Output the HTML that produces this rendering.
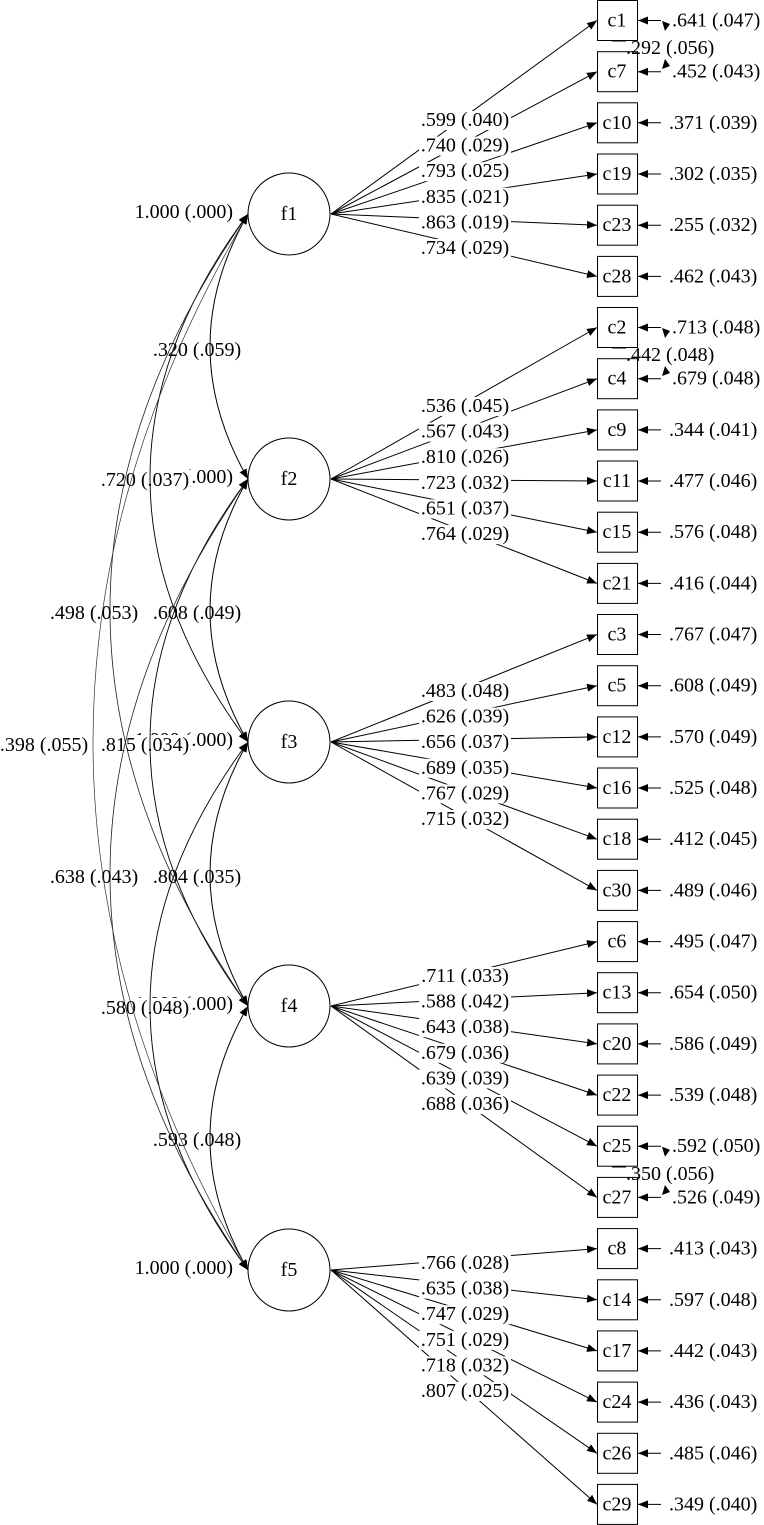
<!DOCTYPE html>
<html><head><meta charset="utf-8"><style>
html,body{margin:0;padding:0;background:#fff}
svg{display:block}
text{font-family:"Liberation Serif",serif;font-size:20px;fill:#000}
</style></head><body>
<svg width="764" height="1525" viewBox="0 0 764 1525" xmlns="http://www.w3.org/2000/svg">
<defs>
<marker id="ah" viewBox="0 0 10 10" refX="10" refY="5" markerWidth="10" markerHeight="10" markerUnits="userSpaceOnUse" orient="auto-start-reverse">
<path d="M0,1 L10,5 L0,9 z" fill="#000"/></marker>
</defs>

<!-- self variance labels -->
<g text-anchor="end" dominant-baseline="central">
<text x="233" y="212">1.000 (.000)</text>
<text x="233" y="477">1.000 (.000)</text>
<text x="233" y="740">1.000 (.000)</text>
<text x="233" y="1004">1.000 (.000)</text>
<text x="233" y="1268">1.000 (.000)</text>
</g>

<!-- covariance labels -->
<g text-anchor="middle" dominant-baseline="central">
<rect x="152" y="340" width="90" height="20" fill="#fff"/><text x="197" y="350">.320 (.059)</text>
<rect x="100" y="470" width="90" height="20" fill="#fff"/><text x="145" y="480">.720 (.037)</text>
<rect x="49" y="603" width="90" height="20" fill="#fff"/><text x="94" y="613">.498 (.053)</text>
<rect x="-1" y="735" width="90" height="20" fill="#fff"/><text x="44" y="745">.398 (.055)</text>
<rect x="152" y="603" width="90" height="20" fill="#fff"/><text x="197" y="613">.608 (.049)</text>
<rect x="100" y="735" width="90" height="20" fill="#fff"/><text x="145" y="745">.815 (.034)</text>
<rect x="49" y="867" width="90" height="20" fill="#fff"/><text x="94" y="877">.638 (.043)</text>
<rect x="152" y="867" width="90" height="20" fill="#fff"/><text x="197" y="877">.804 (.035)</text>
<rect x="100" y="998" width="90" height="20" fill="#fff"/><text x="145" y="1008">.580 (.048)</text>
<rect x="152" y="1130" width="90" height="20" fill="#fff"/><text x="197" y="1140">.593 (.048)</text>
</g>

<!-- covariance arcs -->
<g fill="none" stroke="#000" stroke-width="1" marker-start="url(#ah)" marker-end="url(#ah)">
<path d="M248,214 Q172,346 248,479"/>
<path d="M248,479 Q172,610 248,742"/>
<path d="M248,742 Q172,874 248,1006"/>
<path d="M248,1006 Q172,1138 248,1270"/>
<path d="M248,214 Q52,478 248,742" stroke-width="0.9"/>
<path d="M248,479 Q52,742 248,1006" stroke-width="0.9"/>
<path d="M248,742 Q52,1006 248,1270" stroke-width="0.9"/>
<path d="M248,214 Q-28,610 248,1006" stroke-width="0.8" stroke="#222"/>
<path d="M248,479 Q-28,874 248,1270" stroke-width="0.8" stroke="#222"/>
<path d="M248,214 Q-62,742 248,1270" stroke-width="0.7" stroke="#333"/>
</g>

<!-- factors -->
<g fill="#fff" stroke="#000" stroke-width="1">
<circle cx="289" cy="214" r="41"/>
<circle cx="289" cy="479" r="41"/>
<circle cx="289" cy="742" r="41"/>
<circle cx="289" cy="1006" r="41"/>
<circle cx="289" cy="1270" r="41"/>
</g>
<g text-anchor="middle" dominant-baseline="central">
<text x="289" y="214">f1</text><text x="289" y="479">f2</text><text x="289" y="742">f3</text><text x="289" y="1006">f4</text><text x="289" y="1270">f5</text>
</g>

<!-- loading lines -->
<g stroke="#000" stroke-width="1" marker-end="url(#ah)">
<line x1="331" y1="214" x2="597" y2="20.5"/>
<line x1="331" y1="214" x2="597" y2="71.7"/>
<line x1="331" y1="214" x2="597" y2="122.8"/>
<line x1="331" y1="214" x2="597" y2="174"/>
<line x1="331" y1="214" x2="597" y2="225.2"/>
<line x1="331" y1="214" x2="597" y2="276.4"/>
<line x1="331" y1="479" x2="597" y2="327.5"/>
<line x1="331" y1="479" x2="597" y2="378.7"/>
<line x1="331" y1="479" x2="597" y2="429.9"/>
<line x1="331" y1="479" x2="597" y2="481"/>
<line x1="331" y1="479" x2="597" y2="532.2"/>
<line x1="331" y1="479" x2="597" y2="583.4"/>
<line x1="331" y1="742" x2="597" y2="634.5"/>
<line x1="331" y1="742" x2="597" y2="685.7"/>
<line x1="331" y1="742" x2="597" y2="736.9"/>
<line x1="331" y1="742" x2="597" y2="788"/>
<line x1="331" y1="742" x2="597" y2="839.2"/>
<line x1="331" y1="742" x2="597" y2="890.4"/>
<line x1="331" y1="1006" x2="597" y2="941.6"/>
<line x1="331" y1="1006" x2="597" y2="992.7"/>
<line x1="331" y1="1006" x2="597" y2="1043.9"/>
<line x1="331" y1="1006" x2="597" y2="1095.1"/>
<line x1="331" y1="1006" x2="597" y2="1146.2"/>
<line x1="331" y1="1006" x2="597" y2="1197.4"/>
<line x1="331" y1="1270" x2="597" y2="1248.6"/>
<line x1="331" y1="1270" x2="597" y2="1299.8"/>
<line x1="331" y1="1270" x2="597" y2="1350.9"/>
<line x1="331" y1="1270" x2="597" y2="1402.1"/>
<line x1="331" y1="1270" x2="597" y2="1453.3"/>
<line x1="331" y1="1270" x2="597" y2="1504.4"/>
</g>

<!-- loading labels -->
<g text-anchor="middle" dominant-baseline="central">
<g fill="#fff">
<rect x="419" y="111" width="92" height="19"/><rect x="419" y="136.6" width="92" height="19"/><rect x="419" y="162.2" width="92" height="19"/><rect x="419" y="187.8" width="92" height="19"/><rect x="419" y="213.4" width="92" height="19"/><rect x="419" y="239" width="92" height="19"/>
<rect x="419" y="397" width="92" height="19"/><rect x="419" y="422.6" width="92" height="19"/><rect x="419" y="448.2" width="92" height="19"/><rect x="419" y="473.8" width="92" height="19"/><rect x="419" y="499.4" width="92" height="19"/><rect x="419" y="525" width="92" height="19"/>
<rect x="419" y="682" width="92" height="19"/><rect x="419" y="707.6" width="92" height="19"/><rect x="419" y="733.2" width="92" height="19"/><rect x="419" y="758.8" width="92" height="19"/><rect x="419" y="784.4" width="92" height="19"/><rect x="419" y="810" width="92" height="19"/>
<rect x="419" y="967" width="92" height="19"/><rect x="419" y="992.6" width="92" height="19"/><rect x="419" y="1018.2" width="92" height="19"/><rect x="419" y="1043.8" width="92" height="19"/><rect x="419" y="1069.4" width="92" height="19"/><rect x="419" y="1095" width="92" height="19"/>
<rect x="419" y="1254" width="92" height="19"/><rect x="419" y="1279.6" width="92" height="19"/><rect x="419" y="1305.2" width="92" height="19"/><rect x="419" y="1330.8" width="92" height="19"/><rect x="419" y="1356.4" width="92" height="19"/><rect x="419" y="1382" width="92" height="19"/>
</g>
<text x="465" y="120">.599 (.040)</text><text x="465" y="145.6">.740 (.029)</text><text x="465" y="171.2">.793 (.025)</text><text x="465" y="196.8">.835 (.021)</text><text x="465" y="222.4">.863 (.019)</text><text x="465" y="248">.734 (.029)</text>
<text x="465" y="406">.536 (.045)</text><text x="465" y="431.6">.567 (.043)</text><text x="465" y="457.2">.810 (.026)</text><text x="465" y="482.8">.723 (.032)</text><text x="465" y="508.4">.651 (.037)</text><text x="465" y="534">.764 (.029)</text>
<text x="465" y="691">.483 (.048)</text><text x="465" y="716.6">.626 (.039)</text><text x="465" y="742.2">.656 (.037)</text><text x="465" y="767.8">.689 (.035)</text><text x="465" y="793.4">.767 (.029)</text><text x="465" y="819">.715 (.032)</text>
<text x="465" y="976">.711 (.033)</text><text x="465" y="1001.6">.588 (.042)</text><text x="465" y="1027.2">.643 (.038)</text><text x="465" y="1052.8">.679 (.036)</text><text x="465" y="1078.4">.639 (.039)</text><text x="465" y="1104">.688 (.036)</text>
<text x="465" y="1263">.766 (.028)</text><text x="465" y="1288.6">.635 (.038)</text><text x="465" y="1314.2">.747 (.029)</text><text x="465" y="1339.8">.751 (.029)</text><text x="465" y="1365.4">.718 (.032)</text><text x="465" y="1391">.807 (.025)</text>
</g>

<!-- boxes -->
<g fill="#fff" stroke="#000" stroke-width="1">
<rect x="597.5" y="0.5" width="40" height="40"/><rect x="597.5" y="51.7" width="40" height="40"/><rect x="597.5" y="102.8" width="40" height="40"/><rect x="597.5" y="154" width="40" height="40"/><rect x="597.5" y="205.2" width="40" height="40"/><rect x="597.5" y="256.4" width="40" height="40"/>
<rect x="597.5" y="307.5" width="40" height="40"/><rect x="597.5" y="358.7" width="40" height="40"/><rect x="597.5" y="409.9" width="40" height="40"/><rect x="597.5" y="461" width="40" height="40"/><rect x="597.5" y="512.2" width="40" height="40"/><rect x="597.5" y="563.4" width="40" height="40"/>
<rect x="597.5" y="614.5" width="40" height="40"/><rect x="597.5" y="665.7" width="40" height="40"/><rect x="597.5" y="716.9" width="40" height="40"/><rect x="597.5" y="768" width="40" height="40"/><rect x="597.5" y="819.2" width="40" height="40"/><rect x="597.5" y="870.4" width="40" height="40"/>
<rect x="597.5" y="921.6" width="40" height="40"/><rect x="597.5" y="972.7" width="40" height="40"/><rect x="597.5" y="1023.9" width="40" height="40"/><rect x="597.5" y="1075.1" width="40" height="40"/><rect x="597.5" y="1126.2" width="40" height="40"/><rect x="597.5" y="1177.4" width="40" height="40"/>
<rect x="597.5" y="1228.6" width="40" height="40"/><rect x="597.5" y="1279.8" width="40" height="40"/><rect x="597.5" y="1330.9" width="40" height="40"/><rect x="597.5" y="1382.1" width="40" height="40"/><rect x="597.5" y="1433.3" width="40" height="40"/><rect x="597.5" y="1484.4" width="40" height="40"/>
</g>
<g text-anchor="middle" dominant-baseline="central">
<text x="617" y="20.5">c1</text><text x="617" y="71.7">c7</text><text x="617" y="122.8">c10</text><text x="617" y="174">c19</text><text x="617" y="225.2">c23</text><text x="617" y="276.4">c28</text>
<text x="617" y="327.5">c2</text><text x="617" y="378.7">c4</text><text x="617" y="429.9">c9</text><text x="617" y="481">c11</text><text x="617" y="532.2">c15</text><text x="617" y="583.4">c21</text>
<text x="617" y="634.5">c3</text><text x="617" y="685.7">c5</text><text x="617" y="736.9">c12</text><text x="617" y="788">c16</text><text x="617" y="839.2">c18</text><text x="617" y="890.4">c30</text>
<text x="617" y="941.6">c6</text><text x="617" y="992.7">c13</text><text x="617" y="1043.9">c20</text><text x="617" y="1095.1">c22</text><text x="617" y="1146.2">c25</text><text x="617" y="1197.4">c27</text>
<text x="617" y="1248.6">c8</text><text x="617" y="1299.8">c14</text><text x="617" y="1350.9">c17</text><text x="617" y="1402.1">c24</text><text x="617" y="1453.3">c26</text><text x="617" y="1504.4">c29</text>
</g>

<!-- residual arrows -->
<g stroke="#000" stroke-width="1" marker-end="url(#ah)">
<line x1="661" y1="20.5" x2="638" y2="20.5"/><line x1="661" y1="71.7" x2="638" y2="71.7"/><line x1="661" y1="122.8" x2="638" y2="122.8"/><line x1="661" y1="174" x2="638" y2="174"/><line x1="661" y1="225.2" x2="638" y2="225.2"/><line x1="661" y1="276.4" x2="638" y2="276.4"/>
<line x1="661" y1="327.5" x2="638" y2="327.5"/><line x1="661" y1="378.7" x2="638" y2="378.7"/><line x1="661" y1="429.9" x2="638" y2="429.9"/><line x1="661" y1="481" x2="638" y2="481"/><line x1="661" y1="532.2" x2="638" y2="532.2"/><line x1="661" y1="583.4" x2="638" y2="583.4"/>
<line x1="661" y1="634.5" x2="638" y2="634.5"/><line x1="661" y1="685.7" x2="638" y2="685.7"/><line x1="661" y1="736.9" x2="638" y2="736.9"/><line x1="661" y1="788" x2="638" y2="788"/><line x1="661" y1="839.2" x2="638" y2="839.2"/><line x1="661" y1="890.4" x2="638" y2="890.4"/>
<line x1="661" y1="941.6" x2="638" y2="941.6"/><line x1="661" y1="992.7" x2="638" y2="992.7"/><line x1="661" y1="1043.9" x2="638" y2="1043.9"/><line x1="661" y1="1095.1" x2="638" y2="1095.1"/><line x1="661" y1="1146.2" x2="638" y2="1146.2"/><line x1="661" y1="1197.4" x2="638" y2="1197.4"/>
<line x1="661" y1="1248.6" x2="638" y2="1248.6"/><line x1="661" y1="1299.8" x2="638" y2="1299.8"/><line x1="661" y1="1350.9" x2="638" y2="1350.9"/><line x1="661" y1="1402.1" x2="638" y2="1402.1"/><line x1="661" y1="1453.3" x2="638" y2="1453.3"/><line x1="661" y1="1504.4" x2="638" y2="1504.4"/>
</g>
<!-- correlated residual small arrowheads -->
<g fill="#000">
<path d="M662,21 L670,24 L665,31 z"/><path d="M662,69 L670,66 L665,59 z"/>
<path d="M662,328 L670,331 L665,338 z"/><path d="M662,376 L670,373 L665,366 z"/>
<path d="M662,1146.7 L670,1149.7 L665,1156.7 z"/><path d="M662,1195 L670,1192 L665,1185 z"/>
</g>
<g stroke="#000" stroke-width="1">
<line x1="612" y1="41" x2="626" y2="41"/><line x1="612" y1="348" x2="626" y2="348"/><line x1="612" y1="1167" x2="626" y2="1167"/>
</g>
<g dominant-baseline="central">
<text x="672" y="20.5">.641 (.047)</text><text x="672" y="71.7">.452 (.043)</text><text x="669" y="122.8">.371 (.039)</text><text x="669" y="174">.302 (.035)</text><text x="669" y="225.2">.255 (.032)</text><text x="669" y="276.4">.462 (.043)</text>
<text x="672" y="327.5">.713 (.048)</text><text x="672" y="378.7">.679 (.048)</text><text x="669" y="429.9">.344 (.041)</text><text x="669" y="481">.477 (.046)</text><text x="669" y="532.2">.576 (.048)</text><text x="669" y="583.4">.416 (.044)</text>
<text x="669" y="634.5">.767 (.047)</text><text x="669" y="685.7">.608 (.049)</text><text x="669" y="736.9">.570 (.049)</text><text x="669" y="788">.525 (.048)</text><text x="669" y="839.2">.412 (.045)</text><text x="669" y="890.4">.489 (.046)</text>
<text x="669" y="941.6">.495 (.047)</text><text x="669" y="992.7">.654 (.050)</text><text x="669" y="1043.9">.586 (.049)</text><text x="669" y="1095.1">.539 (.048)</text><text x="672" y="1146.2">.592 (.050)</text><text x="672" y="1197.4">.526 (.049)</text>
<text x="669" y="1248.6">.413 (.043)</text><text x="669" y="1299.8">.597 (.048)</text><text x="669" y="1350.9">.442 (.043)</text><text x="669" y="1402.1">.436 (.043)</text><text x="669" y="1453.3">.485 (.046)</text><text x="669" y="1504.4">.349 (.040)</text>
<text x="626" y="48">.292 (.056)</text>
<text x="626" y="355">.442 (.048)</text>
<text x="626" y="1174">.350 (.056)</text>
</g>
</svg>
</body></html>
